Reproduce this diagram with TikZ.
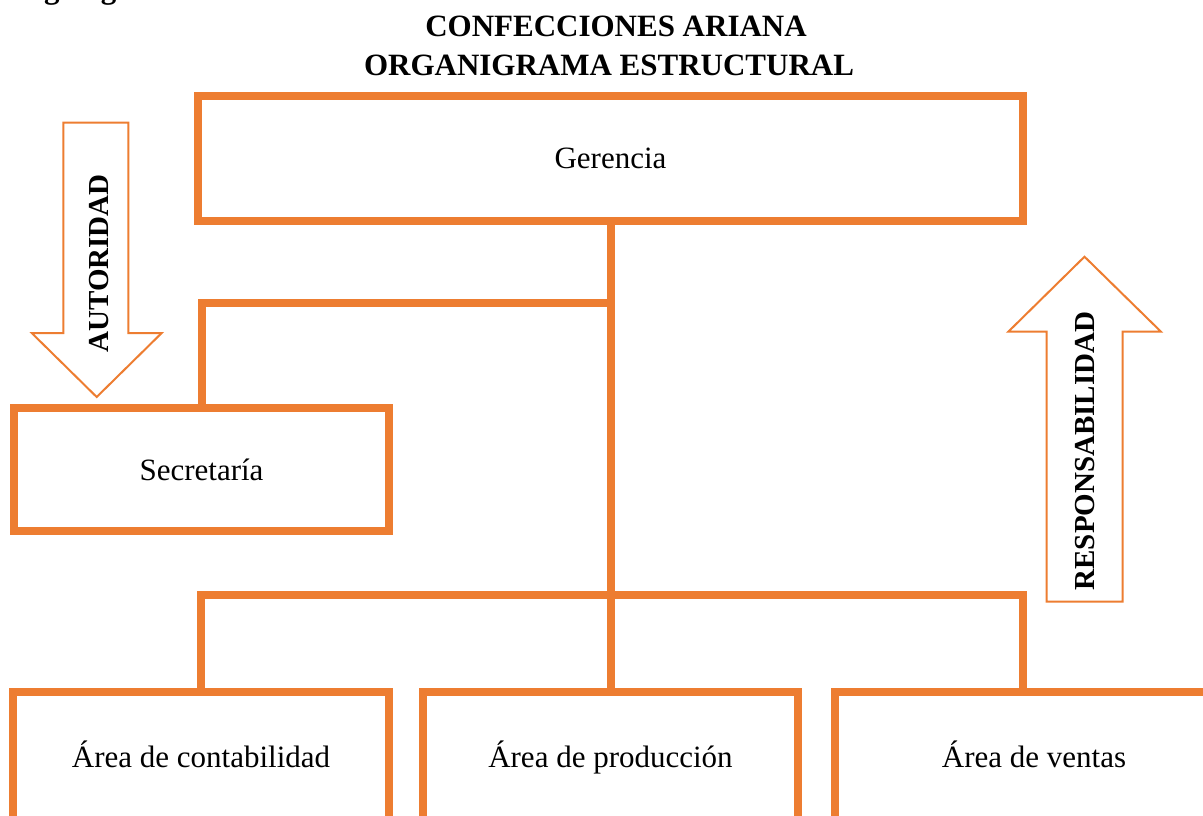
\documentclass[tikz,border=0pt]{standalone}
\usepackage{fontspec}
\setmainfont{Liberation Serif}
\definecolor{orng}{HTML}{ED7D31}
\tikzset{
 orgbox/.style={draw=orng,line width=8pt,fill=white,inner sep=0pt,outer sep=0pt,font=\fontsize{31}{37}\selectfont},
 conn/.style={draw=orng,line width=8pt,line join=miter},
 bigarrow/.style={draw=orng,line width=2pt,fill=white,line join=miter},
 arrowtxt/.style={font=\fontsize{29}{34}\selectfont\bfseries,rotate=90,inner sep=0pt},
 lbl/.style={font=\fontsize{31}{37}\selectfont,inner sep=0pt},
 ttl/.style={font=\fontsize{31}{37}\selectfont\bfseries,inner sep=0pt}
}
\begin{document}
\begin{tikzpicture}[x=1pt,y=-1pt]
\useasboundingbox (0,0) rectangle (1203,815);
\clip (0,0) rectangle (1203,815);
% titles
\node[ttl,anchor=base west] (org) at (6,-2) {Organigrama};
\node[ttl,anchor=base] (t1) at (616,36) {CONFECCIONES ARIANA};
\node[ttl,anchor=base] (t2) at (609,75) {ORGANIGRAMA ESTRUCTURAL};
% boxes
\node[orgbox,minimum width=825,minimum height=125] (ger) at (610.5,158.5) {Gerencia};
\node[orgbox,minimum width=375,minimum height=123] (sec) at (201.5,469.5) {Secretaría};
\node[orgbox,minimum width=376,minimum height=150,anchor=north] (cont) at (201,692) {};
\node[orgbox,minimum width=375,minimum height=150,anchor=north] (prod) at (610.5,692) {};
\node[orgbox,minimum width=376,minimum height=150,anchor=north] (vent) at (1023,692) {};
\node[lbl,anchor=base] (contl) at (201,767) {Área de contabilidad};
\node[lbl,anchor=base] (prodl) at (610.5,767) {Área de producción};
\node[lbl,anchor=base] (ventl) at (1034,767) {Área de ventas};
% connectors
\coordinate (jt) at (610,303);
\coordinate (jb) at (610,595);
\draw[conn] (ger.south) -- (prod.north);
\draw[conn] (jt) -| (sec.north);
\draw[conn] (cont.north) |- (vent.north |- jb) -- (vent.north);
% arrows
\draw[bigarrow] (63.3,122.7) -- (128.3,122.7) -- (128.3,333) -- (161.7,333) -- (96.7,397) -- (31.7,333) -- (63.3,333) -- cycle;
\node[arrowtxt] (aut) at (99,263.5) {AUTORIDAD};
\draw[bigarrow] (1046.7,601.7) -- (1046.7,331.7) -- (1008.3,331.7) -- (1084.5,256.7) -- (1161,331.7) -- (1122.7,331.7) -- (1122.7,601.7) -- cycle;
\node[arrowtxt] (resp) at (1085,451) {RESPONSABILIDAD};
\end{tikzpicture}
\end{document}
